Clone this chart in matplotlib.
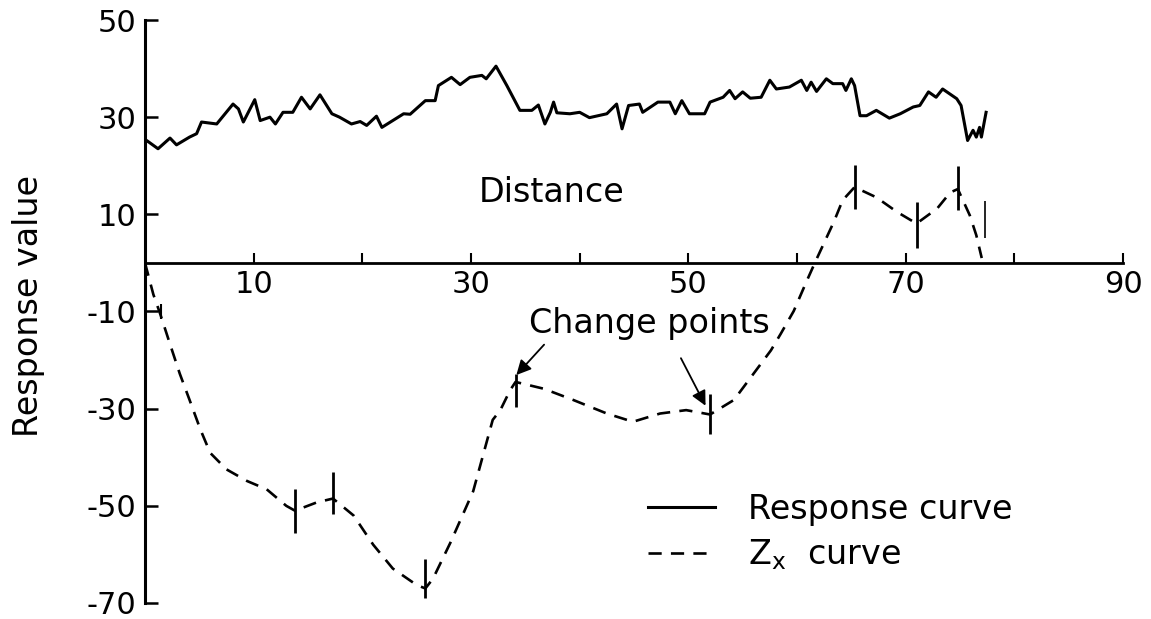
import matplotlib.pyplot as plt

# response curve (solid)
resp_x = [0, 0.15, 1.2, 2.3, 2.9, 4.1, 4.75, 5.2, 6.6, 8.1, 8.6, 9.05, 10.1, 10.6, 11.5, 12, 12.7,
          13.6, 14.4, 15.2, 16.1, 17.2, 17.9, 19.0, 19.8, 20.4, 21.3, 21.8, 23.8, 24.4, 25.3, 25.8,
          26.7, 27.0, 28.2, 29.0, 29.9, 31.0, 31.4, 32.3, 33.3, 34.5, 35.6, 36.2, 36.8, 37.3, 37.6,
          37.9, 39.1, 40.0, 40.9, 42.5, 43.4, 43.9, 44.5, 45.5, 45.8, 47.2, 48.3, 48.8, 49.4, 50.1,
          51.5, 52.0, 53.2, 53.8, 54.3, 55.0, 55.7, 56.7, 57.5, 58.1, 59.3, 60.4, 60.9, 61.3, 61.8,
          62.7, 63.3, 64.2, 64.5, 65.0, 65.3, 65.8, 66.4, 67.3, 68.5, 69.5, 70.7, 71.3, 72.1, 72.8,
          73.4, 74.7, 75.1, 75.7, 76.2, 76.5, 76.8, 76.97, 77.4]
resp_y = [24.5, 25.2, 23.5, 25.7, 24.3, 25.9, 26.6, 29, 28.6, 32.7, 31.7, 29, 33.6, 29.3, 30, 28.6, 31,
          31, 34.1, 31.7, 34.6, 30.7, 30, 28.6, 29.1, 28.3, 30.2, 27.9, 30.7, 30.6, 32.4, 33.4,
          33.4, 36.5, 38.2, 36.7, 38.2, 38.6, 37.9, 40.5, 36.5, 31.4, 31.4, 32.5, 28.6, 31, 33.1,
          30.9, 30.7, 31, 29.9, 30.7, 32.7, 27.6, 32.4, 32.7, 31, 33.1, 33.1, 30.7, 33.4, 30.7,
          30.7, 33.1, 34.1, 35.5, 33.8, 35.2, 33.9, 34.1, 37.6, 35.8, 36.2, 37.6, 35.5, 37.2, 35.3,
          37.9, 36.9, 36.9, 35.5, 37.9, 36.5, 30.3, 30.3, 31.4, 29.8, 30.7, 32.1, 32.4, 35.2, 34.1,
          35.8, 33.8, 32.4, 25.2, 27.3, 25.9, 27.9, 25.9, 31]

# Zx curve (dashed)
zx_x = [0, 0.77, 1.4, 2.3, 3.2, 4.1, 5.1, 6.0, 7.5, 9.4, 11.2, 13.0, 13.8, 15.8, 17.3, 19.2, 21.0,
        22.8, 25.0, 25.8, 26.5, 28.1, 30.2, 32.0, 32.7, 33.6, 34.1, 36.7, 39.4, 42.5, 44.9, 47.4,
        49.8, 52.0, 54.2, 56.0, 57.6, 58.5, 59.7, 60.9, 61.7, 63.4, 64.2, 65.3, 67.3, 69.2, 71.0,
        72.9, 74.1, 74.8, 75.9, 76.5, 77.0]
zx_y = [0, -6.5, -10.5, -16.7, -22.8, -28.2, -34.3, -39.1, -42.5, -44.9, -46.6, -50, -51, -49.3,
        -48.5, -52, -58, -62.9, -66.3, -67, -65, -57.6, -47, -32.3, -30.3, -26.2, -24.5, -25.9,
        -28.2, -31, -32.7, -31, -30.3, -31.2, -28.2, -22.8, -18, -14.6, -9.9, -3.7, 0.3, 8.5, 12.9,
        15.6, 13.5, 10.5, 8.1, 11.2, 14.5, 15.2, 9.8, 5.7, 1.0]

# change point bars
cp_x = [1.5, 13.8, 17.3, 25.8, 34.1, 52.0, 65.3, 71.0, 74.8, 77.3]
cp_lo = [-11.5, -55.5, -51.7, -69, -29.6, -35.3, 11.2, 3.0, 10.8, 5.1]
cp_hi = [-8.5, -46.6, -43, -61, -22.8, -26.9, 20.1, 12.6, 19.9, 12.8]
cp_lw = [1.5, 2, 2, 2, 2, 2, 2, 2, 2, 1.2]

xticks = [10, 20, 30, 40, 50, 60, 70, 80, 90]
xtick_labels = ['10', '', '30', '', '50', '', '70', '', '90']
yticks = [50, 30, 10, -10, -30, -50, -70]

plt.rcParams['font.family'] = ['DejaVu Sans']
plt.rcParams['axes.unicode_minus'] = False

fig = plt.figure(figsize=(11.51, 6.19), dpi=100)
ax = fig.add_axes([145 / 1151, 16 / 619, 978 / 1151, 583 / 619])

ax.plot(resp_x, resp_y, color='black', lw=2.2, label='Response curve')
ax.plot(zx_x, zx_y, color='black', lw=1.9, linestyle=(0, (5, 3.5)), label='Z$_\\mathregular{x}$  curve')
ax.vlines(cp_x, cp_lo, cp_hi, colors='black', linewidths=cp_lw)

ax.set_xlim(0, 90)
ax.set_ylim(-70, 50)

ax.spines['top'].set_visible(False)
ax.spines['right'].set_visible(False)
ax.spines['bottom'].set_position(('data', 0))
ax.spines['left'].set_linewidth(2.2)
ax.spines['bottom'].set_linewidth(2.0)

ax.set_xticks(xticks)
ax.set_xticklabels(xtick_labels)
ax.set_yticks(yticks)
ax.tick_params(axis='x', direction='in', length=7, width=1.5, pad=5, labelsize=22)
ax.tick_params(axis='y', direction='in', length=9, width=1.8, pad=6, labelsize=22)

ax.set_ylabel('Response value', fontsize=24)
ax.yaxis.set_label_coords(-0.102, 0.51)

ax.text(37.4, 14.4, 'Distance', fontsize=24, ha='center', va='center')
ax.text(46.4, -12.4, 'Change points', fontsize=24, ha='center', va='center')
ax.annotate('', xy=(34.0, -23.5), xytext=(36.9, -16.4),
            arrowprops=dict(arrowstyle='-|>', color='black', lw=1.3, mutation_scale=22))
ax.annotate('', xy=(51.7, -29.9), xytext=(49.2, -19.1),
            arrowprops=dict(arrowstyle='-|>', color='black', lw=1.3, mutation_scale=22))

ax.legend(loc='upper left', bbox_to_anchor=(0.484, 0.24), frameon=False, fontsize=24,
          handlelength=2.0, handletextpad=1.0, labelspacing=0.35)

fig.savefig('out.png', dpi=100)
